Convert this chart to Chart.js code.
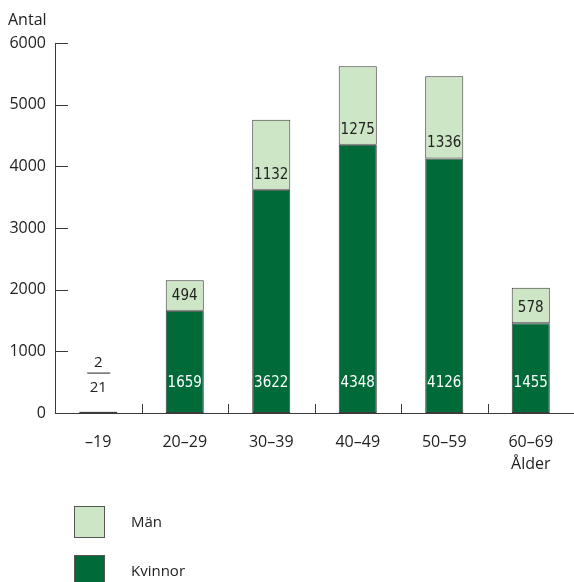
<!DOCTYPE html>
<html>
<head>
<meta charset="utf-8">
<script src="https://cdn.jsdelivr.net/npm/chart.js@4/dist/chart.umd.min.js"></script>
<style>
  body { margin: 0; background: #fff; }
</style>
</head>
<body>
<canvas id="ageChart" width="574" height="582"></canvas>
<script>
const ageGroups = ['–19', '20–29', '30–39', '40–49', '50–59', '60–69'];
const kvinnor = [21, 1659, 3622, 4348, 4126, 1455];
const man = [2, 494, 1132, 1275, 1336, 578];
const yTicks = [0, 1000, 2000, 3000, 4000, 5000, 6000];
const yTitle = 'Antal';
const xTitle = 'Ålder';

const darkGreen = '#006b38';
const lightGreen = '#cde6c5';
const lineColor = '#3a3a3a';
const mainFont = '"Open Sans", "Noto Sans", sans-serif';
const narrowFont = '"Liberation Sans Narrow", "DejaVu Sans Condensed", sans-serif';

// labels, axis ticks and legend drawn on top of the chart
const extras = {
    id: 'extras',
    afterDatasetsDraw(chart) {
        const ctx = chart.ctx;
        const x = chart.scales.x;
        const y = chart.scales.y;
        const area = chart.chartArea;
        const kv = chart.getDatasetMeta(0).data;
        const mn = chart.getDatasetMeta(1).data;
        ctx.save();
        ctx.textAlign = 'center';
        ctx.textBaseline = 'middle';

        for (let i = 0; i < ageGroups.length; i++) {
            if (kvinnor[i] < 200) {
                // too small, put the numbers as a fraction above the bar
                const cx = kv[i].x;
                const top = mn[i].y;
                ctx.font = '15px ' + mainFont;
                ctx.fillStyle = '#222';
                ctx.fillText(man[i], cx, top - 49);
                ctx.fillText(kvinnor[i], cx, top - 24);
                ctx.strokeStyle = '#222';
                ctx.lineWidth = 1;
                ctx.beginPath();
                ctx.moveTo(cx - 11, top - 38.5);
                ctx.lineTo(cx + 12, top - 38.5);
                ctx.stroke();
                continue;
            }
            ctx.font = '15px ' + narrowFont;
            ctx.fillStyle = '#fff';
            ctx.fillText(kvinnor[i], kv[i].x, y.getPixelForValue(0) - 30);
            ctx.fillStyle = '#222';
            ctx.fillText(man[i], mn[i].x, kv[i].y - 15);
        }

        // ticks inside the axes
        ctx.strokeStyle = lineColor;
        ctx.lineWidth = 1;
        ctx.beginPath();
        yTicks.forEach(t => {
            const py = Math.round(y.getPixelForValue(t)) + 0.5;
            ctx.moveTo(area.left, py);
            ctx.lineTo(area.left + 13, py);
        });
        for (let i = 1; i < ageGroups.length; i++) {
            const px = Math.round((x.getPixelForValue(i - 1) + x.getPixelForValue(i)) / 2) + 0.5;
            ctx.moveTo(px, area.bottom);
            ctx.lineTo(px, area.bottom - 9);
        }
        ctx.stroke();

        // y axis title
        ctx.font = '16px ' + mainFont;
        ctx.fillStyle = '#222';
        ctx.textAlign = 'left';
        ctx.fillText(yTitle, 8, 20);

        // legend, top series first
        const items = chart.data.datasets.slice().reverse();
        items.forEach((ds, k) => {
            const by = 506 + k * 49;
            ctx.fillStyle = ds.backgroundColor;
            ctx.fillRect(74.5, by + 0.5, 30, 31);
            ctx.strokeStyle = '#555';
            ctx.strokeRect(74.5, by + 0.5, 30, 31);
            ctx.fillStyle = '#222';
            ctx.font = '15px ' + mainFont;
            ctx.fillText(ds.label, 131, by + 17);
        });
        ctx.restore();
    }
};

new Chart(document.getElementById('ageChart'), {
    type: 'bar',
    data: {
        labels: ageGroups,
        datasets: [{
            label: 'Kvinnor',
            data: kvinnor,
            backgroundColor: darkGreen,
            borderColor: lineColor,
            borderWidth: 1,
            borderSkipped: false,
        }, {
            label: 'Män',
            data: man,
            backgroundColor: lightGreen,
            borderColor: lineColor,
            borderWidth: 1,
            borderSkipped: false,
        }]
    },
    options: {
        responsive: false,
        devicePixelRatio: 1,
        animation: false,
        layout: { padding: { top: 43, right: 0, left: 0, bottom: 0 } },
        plugins: {
            legend: { display: false },
            tooltip: { enabled: false },
        },
        datasets: {
            bar: { categoryPercentage: 1, barPercentage: 0.44 }
        },
        scales: {
            x: {
                stacked: true,
                grid: { display: false, drawTicks: false },
                border: { display: true, color: lineColor, width: 1 },
                afterFit: s => { s.height = 169; },
                ticks: {
                    color: '#222',
                    padding: 18,
                    maxRotation: 0,
                    font: { family: mainFont, size: 16, lineHeight: 1.4 },
                    callback: (v, i) => i === ageGroups.length - 1 ? [ageGroups[i], xTitle] : ageGroups[i],
                },
            },
            y: {
                stacked: true,
                min: 0,
                max: 6000,
                grid: { display: false, drawTicks: false },
                border: { display: true, color: lineColor, width: 1 },
                afterFit: s => { s.width = 55; },
                afterBuildTicks: s => { s.ticks = yTicks.map(v => ({ value: v })); },
                ticks: {
                    color: '#222',
                    padding: 9,
                    font: { family: mainFont, size: 16 },
                    callback: v => v,
                },
            }
        }
    },
    plugins: [extras]
});
</script>
</body>
</html>
